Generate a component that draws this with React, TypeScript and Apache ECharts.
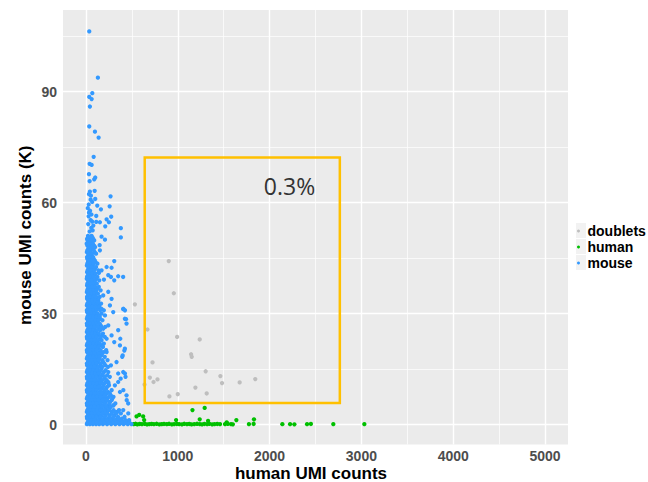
import React, { useEffect, useRef } from "react";
import * as echarts from "echarts";

// ---- data (x: human UMI counts, y: mouse UMI counts in K) ----
const xTicks = [0, 1000, 2000, 3000, 4000, 5000];
const xMinor = [500, 1500, 2500, 3500, 4500];
const yTicks = [0, 30, 60, 90];
const yMinor = [15, 45, 75, 105];

const doublets: number[][] = [
  [533, 32.5], [902, 44.2], [957, 35.5], [670, 25.7], [993, 23.7], [1239, 23.0],
  [1145, 19.0], [1152, 18.3], [725, 16.8], [1304, 14.4], [1464, 13.1], [696, 12.7],
  [779, 12.2], [736, 11.5], [638, 10.8], [1482, 11.2], [1674, 11.4], [1844, 12.3],
  [1192, 10.0], [909, 7.6], [1000, 8.2], [1315, 8.4],
];

const human: number[][] = [
  [520, 0.1], [540, 0.2], [560, 0.05], [585, 0.15], [610, 0.1], [640, 0.2], [665, 0.05],
  [690, 0.1], [715, 0.15], [740, 0.1], [770, 0.2], [800, 0.05], [825, 0.1], [850, 0.15],
  [880, 0.1], [905, 0.2], [935, 0.05], [960, 0.1], [990, 0.15], [1015, 0.1], [1045, 0.05],
  [1070, 0.2], [1100, 0.1], [1125, 0.15], [1150, 0.05], [1180, 0.1], [1210, 0.2], [1240, 0.1],
  [1265, 0.05], [1290, 0.15], [1320, 0.1], [1345, 0.2], [1375, 0.05], [1400, 0.1], [1430, 0.15],
  [1460, 0.1], [1515, 0.1], [1545, 0.2], [1580, 0.1], [1600, 0.05], [1775, 0.1], [1826, 0.15],
  [2139, 0.1], [2223, 0.1], [2270, 0.05], [2408, 0.1], [2450, 0.15], [2694, 0.1], [3032, 0.1],
  [551, 2.2], [580, 2.6], [623, 2.2], [634, 1.2], [1160, 3.9], [1293, 4.5], [982, 1.2],
  [1239, 1.4], [1330, 1.0], [1533, 0.6], [1638, 1.2], [1830, 1.4],
];

// dense core of mouse cells: [y, x values at that y]
const mouseCoreRows: [number, number[]][] = [
  [51.0, [22, 61]], [50.2, [12, 45, 78]], [49.3, [30, 66]], [48.4, [15, 52, 88]],
  [47.5, [25, 70]], [46.6, [10, 40, 95]], [45.7, [28, 62]], [44.8, [14, 48, 84]],
  [43.9, [22, 58, 105]], [43.0, [10, 40, 75]], [42.1, [26, 62, 98]], [41.2, [12, 46, 82]],
  [40.3, [20, 56, 90]], [39.4, [9, 38, 72, 112]], [38.5, [24, 58, 92]], [37.6, [12, 44, 78]],
  [36.7, [20, 54, 88, 121]], [35.8, [10, 36, 70, 102]], [34.9, [22, 56, 90]],
  [34.0, [12, 42, 76, 115]], [33.1, [25, 60, 95]], [32.2, [10, 40, 72, 108, 141]],
  [31.3, [20, 55, 88, 125]], [30.4, [12, 38, 70, 100]], [29.5, [24, 58, 90, 135]],
  [28.6, [10, 42, 75, 110, 152]], [27.7, [22, 55, 88, 128]], [26.8, [12, 40, 70, 102, 160]],
  [25.9, [25, 58, 92, 140]], [25.0, [10, 42, 75, 115]], [24.1, [20, 55, 88, 130, 176]],
  [23.2, [12, 40, 70, 105, 150]], [22.3, [25, 58, 92, 125]], [21.4, [10, 42, 75, 110, 166]],
  [20.5, [22, 55, 88, 135]], [19.6, [12, 40, 70, 105, 150, 191]],
  [18.7, [25, 58, 92, 125, 170]], [17.8, [10, 42, 75, 110, 145]],
  [16.9, [22, 55, 88, 130, 186]], [16.0, [12, 40, 70, 105, 155, 211]],
  [15.1, [25, 58, 92, 125, 170]], [14.2, [10, 42, 75, 110, 145, 196]],
  [13.3, [22, 55, 88, 130, 175, 231]], [12.4, [12, 40, 70, 105, 150, 200]],
  [11.5, [25, 58, 92, 125, 165, 216]], [10.6, [10, 42, 75, 110, 145, 190, 251]],
  [9.7, [22, 55, 88, 130, 170, 220]], [8.8, [12, 40, 70, 105, 150, 195, 241]],
  [7.9, [25, 58, 92, 125, 165, 210, 271]], [7.0, [10, 42, 75, 110, 145, 185, 230]],
  [6.1, [22, 55, 88, 130, 170, 215, 262]], [5.2, [12, 40, 70, 105, 150, 195, 240, 301]],
  [4.3, [25, 58, 92, 125, 165, 210, 255]], [3.4, [10, 42, 75, 110, 145, 185, 230, 281, 341]],
  [2.5, [22, 55, 88, 130, 170, 215, 260, 311]],
  [1.6, [12, 40, 70, 105, 150, 195, 240, 290, 340, 391]],
  [0.8, [25, 58, 92, 125, 165, 210, 255, 300, 350, 400, 452]],
  [0.1, [10, 42, 75, 110, 145, 185, 230, 275, 320, 365, 410, 455, 496]],
];

// more mouse cells between the rows above
const mouseFillRows: [number, number[]][] = [
  [50.6, [30, 70]], [49.8, [18, 55, 90]], [48.9, [8, 40, 75]], [48.0, [32, 62, 100]],
  [47.1, [15, 50, 85]], [46.2, [25, 65, 110]], [45.3, [12, 42, 78]], [44.4, [30, 68, 96]],
  [43.5, [15, 50, 85, 125]], [42.6, [30, 65, 110]], [41.7, [18, 52, 90, 135]],
  [40.8, [30, 68, 105]], [39.9, [12, 42, 78, 125]], [39.0, [30, 65, 100, 145]],
  [38.1, [15, 48, 84, 118]], [37.2, [30, 68, 100, 140]], [36.3, [14, 45, 80, 115, 160]],
  [35.4, [30, 62, 95, 130]], [34.5, [12, 45, 80, 110, 150]], [33.6, [30, 68, 100, 135]],
  [32.7, [15, 48, 85, 120, 165]], [31.8, [32, 68, 105, 145]],
  [30.9, [10, 45, 80, 112, 155, 195]], [30.0, [30, 62, 95, 128, 170]],
  [29.1, [15, 48, 82, 118, 150]], [28.2, [30, 65, 100, 135, 180]],
  [27.3, [10, 45, 78, 112, 150]], [26.4, [30, 62, 95, 130, 170, 210]],
  [25.5, [15, 48, 82, 120, 155]], [24.6, [30, 65, 100, 140, 185]],
  [23.7, [10, 45, 78, 115, 160, 205]], [22.8, [30, 62, 95, 135, 170]],
  [21.9, [15, 48, 82, 120, 150, 195]], [21.0, [30, 65, 100, 140, 185]],
  [20.1, [10, 45, 78, 115, 160, 220]], [19.2, [30, 62, 95, 135, 175]],
  [18.3, [15, 48, 82, 120, 150, 205]], [17.4, [30, 65, 100, 140, 180, 235]],
  [16.5, [10, 45, 78, 115, 160, 200]], [15.6, [30, 62, 95, 135, 175, 240]],
  [14.7, [15, 48, 82, 120, 160, 215]], [13.8, [30, 65, 100, 140, 185]],
  [12.9, [10, 45, 78, 115, 160, 205, 260]], [12.0, [30, 62, 95, 135, 175, 225]],
  [11.1, [15, 48, 82, 120, 160, 200, 245]], [10.2, [30, 65, 100, 140, 185, 230]],
  [9.3, [10, 45, 78, 115, 160, 205, 280]], [8.4, [30, 62, 95, 135, 175, 225, 260]],
  [7.5, [15, 48, 82, 120, 160, 200, 250, 300]], [6.6, [30, 65, 100, 140, 185, 230, 280]],
  [5.7, [10, 45, 78, 115, 160, 205, 255, 320]], [4.8, [30, 62, 95, 135, 175, 225, 270]],
  [3.9, [15, 48, 82, 120, 160, 200, 250, 300, 360]],
  [3.0, [30, 65, 100, 140, 185, 230, 280, 330, 380]],
  [2.1, [10, 45, 78, 115, 160, 205, 255, 300, 350, 420]],
  [1.2, [30, 62, 95, 135, 175, 225, 270, 320, 370, 430, 470]],
  [0.45, [15, 48, 82, 120, 160, 200, 250, 295, 340, 385, 430, 475]],
];

const mouseOuter: number[][] = [
  [36, 106.3], [130, 93.8], [69, 89.6], [36, 88.6], [62, 88], [43, 86], [36, 80.6],
  [98, 79.2], [138, 77.6], [84, 72.4], [40, 70.5], [62, 70.2], [33, 67.7], [101, 66.8],
  [90, 66.3], [40, 65.8], [95, 63.2], [43, 63], [33, 62.3], [268, 61.7], [54, 61.9],
  [101, 61], [51, 60.8], [68, 60.2], [123, 59.2], [258, 59], [163, 58.2], [33, 57.3],
  [29, 56.3], [112, 56.4], [275, 56.2], [225, 55.5], [51, 55.3], [68, 54.9], [112, 54.8],
  [152, 54.7], [250, 54.7], [210, 53.6], [58, 53.2], [73, 52.5], [380, 53.1], [170, 50.8],
  [207, 50], [380, 50.6], [149, 48.5], [152, 47.1], [308, 44.2], [279, 42.4], [351, 40.1],
  [405, 39.9], [243, 40.4], [196, 39.2], [308, 39], [141, 41], [170, 41.7], [225, 42.6],
  [272, 39.9], [20, 58.5], [45, 57.8], [30, 59.5], [60, 56.8], [25, 54.2], [80, 53.8],
  [40, 52.2],
  [406, 31.2], [424, 28.6], [442, 27.3], [351, 25.5], [370, 21.4], [424, 20.5], [395, 18.3],
  [333, 16.9], [406, 14.2], [351, 13.8], [431, 12.9], [442, 7.9], [460, 5.7], [315, 3.4],
  [406, 3.9], [351, 1.6], [261, 32.2], [297, 30.4], [243, 26.8], [279, 24.1], [308, 22.3],
  [225, 19.6], [272, 16], [315, 10.6], [370, 8.8], [243, 11.5], [286, 7], [207, 29.5],
  [188, 34.9], [243, 35.9], [279, 34], [170, 31.3], [134, 33.1], [225, 23.2], [188, 25.9],
  [243, 14.2], [297, 5.2], [207, 7.9], [351, 11.5],
  [407, 31.3], [425, 30.9], [436, 28.5], [374, 23.2], [418, 20], [400, 18.7], [425, 13.8],
  [378, 12.4], [407, 9.3], [444, 6.6], [461, 3.0],
];

const mouse: number[][] = [
  ...mouseCoreRows.flatMap(([y, xs]) => xs.map((x) => [x, y])),
  ...mouseFillRows.flatMap(([y, xs]) => xs.map((x) => [x, y])),
  ...mouseOuter,
];

const gateBox = { x0: 640, x1: 2765, y0: 5.8, y1: 72.2 };
const gateLabel = { x: 2217, y: 64.4, text: "0.3%" };

const seriesNames = ["doublets", "human", "mouse"];
const seriesColors = ["#BEBEBE", "#00C000", "#3399FF"];

export default function App() {
  const ref = useRef<HTMLDivElement>(null);
  useEffect(() => {
    document.body.style.margin = "0";
    if (!ref.current) return;
    const chart = echarts.init(ref.current, null, { renderer: "svg" });
    const font = "'Liberation Sans', Arial, sans-serif";
    const gridLines = [
      ...xTicks.map((v) => ({ xAxis: v, lineStyle: { width: 1.4 } })),
      ...xMinor.map((v) => ({ xAxis: v, lineStyle: { width: 0.7 } })),
      ...yTicks.map((v) => ({ yAxis: v, lineStyle: { width: 1.4 } })),
      ...yMinor.map((v) => ({ yAxis: v, lineStyle: { width: 0.7 } })),
    ];
    const legendKeys = seriesNames.map((_, i) => ({
      type: "rect",
      shape: { x: 576, y: 223 + i * 16, width: 10, height: 15 },
      style: { fill: "#F2F2F2" },
      silent: true,
      z: 0,
    }));
    chart.setOption({
      animation: false,
      backgroundColor: "#FFFFFF",
      grid: {
        left: 63,
        right: 80,
        top: 10,
        bottom: 37.5,
        show: true,
        backgroundColor: "#EBEBEB",
        borderWidth: 0,
        outerBoundsMode: "none",
        containLabel: false,
      },
      graphic: legendKeys,
      legend: {
        orient: "vertical",
        left: 577,
        top: 223,
        padding: 0,
        itemWidth: 8,
        itemHeight: 3,
        itemGap: 0,
        icon: "circle",
        data: seriesNames,
        textStyle: {
          fontFamily: font,
          fontWeight: "bold",
          fontSize: 14,
          color: "#000000",
          lineHeight: 16,
        },
      },
      xAxis: {
        type: "value",
        min: -250,
        max: 5250,
        name: "human UMI counts",
        nameLocation: "middle",
        nameGap: 20,
        nameMoveOverlap: false,
        nameTextStyle: {
          fontFamily: font,
          fontWeight: "bold",
          fontSize: 17,
          lineHeight: 17,
          color: "#000000",
          padding: [0, 9, 0, 0],
        },
        axisLine: { show: false },
        axisTick: {
          show: true,
          length: 3,
          customValues: xTicks,
          lineStyle: { color: "#333333", width: 1 },
        },
        axisLabel: {
          customValues: xTicks,
          formatter: (v: number) => String(v),
          margin: 4,
          fontFamily: font,
          fontWeight: "bold",
          fontSize: 14,
          color: "#4D4D4D",
        },
        splitLine: { show: false },
      },
      yAxis: {
        type: "value",
        min: -5.4,
        max: 112.1,
        name: "mouse UMI counts (K)",
        nameLocation: "middle",
        nameGap: 29.5,
        nameMoveOverlap: false,
        nameRotate: 90,
        nameTextStyle: {
          fontFamily: font,
          fontWeight: "bold",
          fontSize: 17,
          color: "#000000",
          padding: [0, 16, 0, 0],
        },
        axisLine: { show: false },
        axisTick: {
          show: true,
          length: 3,
          customValues: yTicks,
          lineStyle: { color: "#333333", width: 1 },
        },
        axisLabel: {
          customValues: yTicks,
          formatter: (v: number) => String(v),
          margin: 6,
          fontFamily: font,
          fontWeight: "bold",
          fontSize: 14,
          color: "#4D4D4D",
        },
        splitLine: { show: false },
      },
      series: [
        {
          name: "_grid",
          type: "scatter",
          data: [],
          z: 1,
          silent: true,
          markLine: {
            silent: true,
            z: 1,
            symbol: ["none", "none"],
            label: { show: false },
            lineStyle: { color: "#FFFFFF", type: "solid" },
            data: gridLines,
            animation: false,
          },
        },
        {
          name: "doublets",
          type: "scatter",
          data: doublets,
          symbolSize: 4.3,
          itemStyle: { color: seriesColors[0], opacity: 1 },
          z: 3,
          markArea: {
            silent: true,
            z: 4,
            itemStyle: {
              color: "rgba(0,0,0,0)",
              borderColor: "#FFC000",
              borderWidth: 2.5,
            },
            data: [[{ coord: [gateBox.x0, gateBox.y1] }, { coord: [gateBox.x1, gateBox.y0] }]],
          },
          markPoint: {
            silent: true,
            symbol: "circle",
            symbolSize: 1,
            itemStyle: { color: "rgba(0,0,0,0)" },
            label: {
              show: true,
              position: "inside",
              formatter: gateLabel.text,
              fontFamily: "'Open Sans', sans-serif",
              fontSize: 23,
              color: "#333333",
            },
            data: [{ coord: [gateLabel.x, gateLabel.y] }],
          },
        },
        {
          name: "human",
          type: "scatter",
          data: human,
          symbolSize: 4.3,
          itemStyle: { color: seriesColors[1], opacity: 1 },
          z: 3,
        },
        {
          name: "mouse",
          type: "scatter",
          data: mouse,
          symbolSize: 4.3,
          itemStyle: { color: seriesColors[2], opacity: 1 },
          z: 3,
        },
      ],
    });
    return () => chart.dispose();
  }, []);
  return <div ref={ref} style={{ width: 648, height: 482 }} />;
}
